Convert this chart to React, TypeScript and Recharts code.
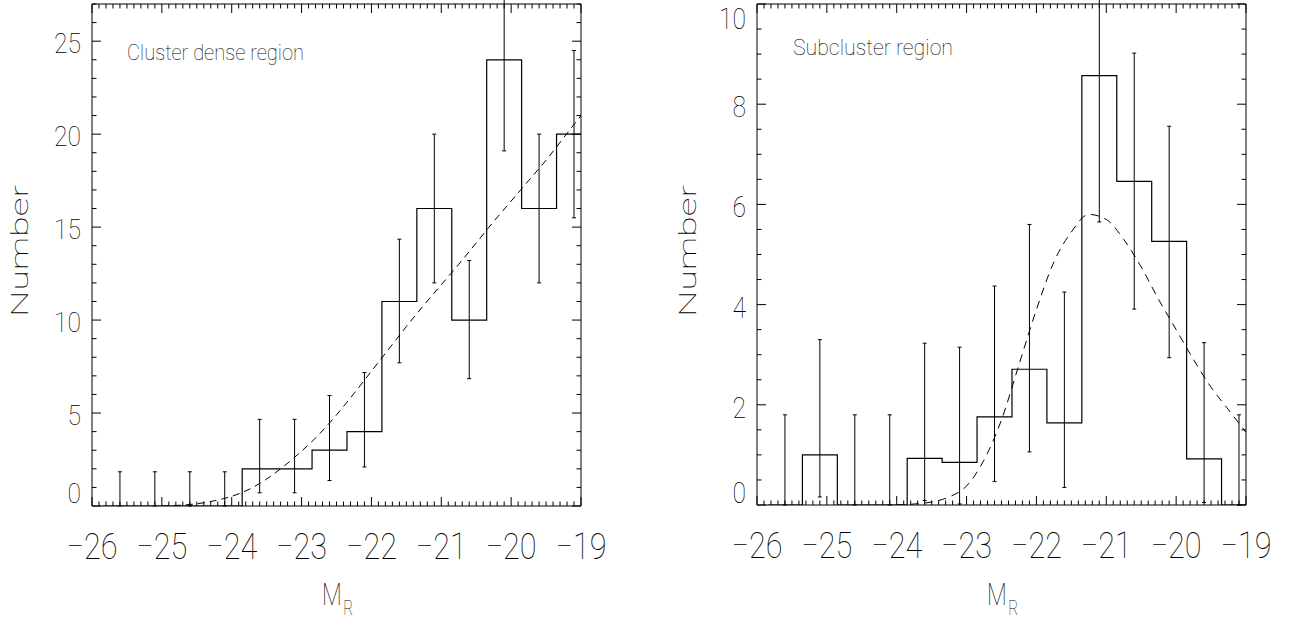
import { ComposedChart, Line, Scatter, ErrorBar, XAxis, YAxis } from 'recharts'

// bins are 0.5 mag wide, same centres in both panels
const binCenters = [-25.6, -25.1, -24.6, -24.1, -23.6, -23.1, -22.6, -22.1, -21.6, -21.1, -20.6, -20.1, -19.6, -19.1]
const binWidth = 0.5

const denseCounts = [0, 0, 0, 0, 2, 2, 3, 4, 11, 16, 10, 24, 16, 20]
const denseUpper = [1.84, 1.84, 1.84, 1.84, 4.66, 4.66, 5.94, 7.18, 14.35, 20.0, 13.2, 29.97, 20.0, 24.5]
const denseLower = [0, 0, 0, 0, 0.71, 0.71, 1.37, 2.1, 7.7, 12.0, 6.85, 19.1, 12.0, 15.5]
const denseFitMag = [-25, -24.75, -24.5, -24.25, -24, -23.75, -23.5, -23.25, -23, -22.75, -22.5, -22.25, -22, -21.75, -21.5, -21.25, -21, -20.75, -20.5, -20.25, -20, -19.75, -19.5, -19.25, -19]
const denseFitN = [0, 0.04, 0.12, 0.28, 0.52, 0.9, 1.45, 2.15, 2.95, 3.85, 4.9, 6.05, 7.25, 8.45, 9.65, 10.8, 11.9, 13.0, 14.15, 15.3, 16.4, 17.5, 18.6, 19.8, 21.0]

const subCounts = [0, 1.0, 0, 0, 0.93, 0.85, 1.76, 2.71, 1.64, 8.57, 6.46, 5.26, 0.92, 0]
const subUpper = [1.8, 3.3, 1.8, 1.8, 3.23, 3.15, 4.37, 5.6, 4.25, 12.6, 9.02, 7.56, 3.24, 1.8]
const subLower = [0, 0.16, 0, 0, 0.09, 0.02, 0.47, 1.06, 0.35, 5.65, 3.91, 2.94, 0.05, 0]
const subFitMag = [-24, -23.75, -23.5, -23.25, -23, -22.75, -22.5, -22.25, -22, -21.75, -21.5, -21.25, -21, -20.75, -20.5, -20.25, -20, -19.75, -19.5, -19.25, -19]
const subFitN = [0, 0.02, 0.06, 0.16, 0.38, 0.9, 1.7, 2.8, 3.9, 4.85, 5.45, 5.8, 5.7, 5.3, 4.75, 4.1, 3.5, 2.9, 2.35, 1.9, 1.45]

const magTicks = [-26, -25, -24, -23, -22, -21, -20, -19]
const denseTicks = [0, 5, 10, 15, 20, 25]
const subTicks = [0, 2, 4, 6, 8, 10]

const FONT = 'Roboto, "DejaVu Sans", sans-serif'
const WEIGHT = 100
const INK = '#000'

function steps(lo: number, hi: number, step: number) {
  const out: number[] = []
  const n = Math.round((hi - lo) / step)
  for (let i = 0; i <= n; i++) out.push(+(lo + i * step).toFixed(4))
  return out
}

const magMinor = steps(magTicks[0], magTicks[magTicks.length - 1], 0.1)
const isMajorMag = (v: number) => Math.abs(v - Math.round(v)) < 1e-6

const fmt = (v: number) => (v < 0 ? '\u2212' + Math.abs(v) : String(v))

function BottomTick(p: any) {
  const v = p.payload.value
  const major = isMajorMag(v)
  return (
    <g>
      <line x1={p.x} x2={p.x} y1={p.y} y2={p.y - (major ? 9 : 4.5)} stroke="#000" />
      {major && (
        <text x={p.x} y={p.y + 41} textAnchor="middle" dominantBaseline="central" fontFamily={FONT} fontWeight={WEIGHT}
          fontSize={36} fill={INK} textLength={51} lengthAdjust="spacingAndGlyphs">
          {fmt(v)}
        </text>
      )}
    </g>
  )
}

function TopTick(p: any) {
  const major = isMajorMag(p.payload.value)
  return <line x1={p.x} x2={p.x} y1={p.y} y2={p.y + (major ? 9 : 4.5)} stroke="#000" />
}

function makeLeftTick(majors: number[], yMax: number, fontSize: number) {
  return (p: any) => {
    const v = p.payload.value
    const major = majors.includes(v)
    const label = String(v)
    // IDL keeps the end labels inside the axis range
    const dy = v === 0 ? -12.5 : v === yMax ? 14.5 : 2.5
    return (
      <g>
        <line x1={p.x} x2={p.x + (major ? 9 : 4.5)} y1={p.y} y2={p.y} stroke="#000" />
        {major && (
          <text x={p.x - 11} y={p.y + dy} textAnchor="end" dominantBaseline="central" fontFamily={FONT} fontWeight={WEIGHT}
            fontSize={fontSize} fill={INK} textLength={label.length * 13.5} lengthAdjust="spacingAndGlyphs">
            {label}
          </text>
        )}
      </g>
    )
  }
}

function makeRightTick(majors: number[]) {
  return (p: any) => {
    const major = majors.includes(p.payload.value)
    return <line x1={p.x} x2={p.x - (major ? 9 : 4.5)} y1={p.y} y2={p.y} stroke="#000" />
  }
}

interface PanelProps {
  counts: number[]
  upper: number[]
  lower: number[]
  fitMag: number[]
  fitN: number[]
  yMax: number
  yTicks: number[]
  yMinor: number
  yFont: number
  dash: string
  title: string
  titleX: number
  titleY: number
  titleLen: number
  numberX: number
  plotLeft: number
  plotRight: number
  plotBottom: number
}

const W = 646
const H = 620

function Panel(cfg: PanelProps) {
  const hist = cfg.counts.map((n, i) => ({ x: binCenters[i] - binWidth / 2, y: n }))
  const last = cfg.counts.length - 1
  hist.push({ x: binCenters[last] + binWidth / 2, y: cfg.counts[last] })
  const bars = cfg.counts.map((n, i) => ({ x: binCenters[i], y: n, err: [n - cfg.lower[i], cfg.upper[i] - n] }))
  const fit = cfg.fitMag.map((m, i) => ({ x: m, y: cfg.fitN[i] }))
  const yMinorTicks = steps(0, cfg.yMax, cfg.yMinor)
  const cx = (cfg.plotLeft + cfg.plotRight) / 2

  return (
    <ComposedChart width={W} height={H}
      margin={{ top: 3, left: cfg.plotLeft - 80, right: W - cfg.plotRight - 1, bottom: H - cfg.plotBottom - 60 }}>
      <XAxis xAxisId="b" dataKey="x" type="number" domain={[-26, -19]} allowDataOverflow ticks={magMinor} interval={0}
        height={60} tickSize={0} tickMargin={0} tickLine={false} tick={BottomTick} axisLine={{ stroke: '#000' }} />
      <XAxis xAxisId="t" orientation="top" dataKey="x" type="number" domain={[-26, -19]} allowDataOverflow ticks={magMinor}
        interval={0} height={1} tickSize={0} tickMargin={0} tickLine={false} tick={TopTick} axisLine={{ stroke: '#000' }} />
      <YAxis yAxisId="l" type="number" domain={[0, cfg.yMax]} allowDataOverflow ticks={yMinorTicks} interval={0} width={80}
        tickSize={0} tickMargin={0} tickLine={false} tick={makeLeftTick(cfg.yTicks, cfg.yMax, cfg.yFont)} axisLine={{ stroke: '#000' }} />
      <YAxis yAxisId="r" orientation="right" type="number" domain={[0, cfg.yMax]} allowDataOverflow ticks={yMinorTicks}
        interval={0} width={1} tickSize={0} tickMargin={0} tickLine={false} tick={makeRightTick(cfg.yTicks)} axisLine={{ stroke: '#000' }} />

      {/* keeps the mirrored top/right axes tied to a series */}
      <Line xAxisId="t" yAxisId="r" data={fit} dataKey="y" stroke="none" dot={false} activeDot={false} isAnimationActive={false} />

      <Line xAxisId="b" yAxisId="l" data={hist} dataKey="y" type="stepAfter" stroke="#000" strokeWidth={1.2}
        dot={false} activeDot={false} isAnimationActive={false} />
      <Line xAxisId="b" yAxisId="l" data={fit} dataKey="y" type="monotone" stroke="#000" strokeWidth={1}
        strokeDasharray={cfg.dash} dot={false} activeDot={false} isAnimationActive={false} />
      <Scatter xAxisId="b" yAxisId="l" data={bars} dataKey="y" shape={() => <g />} isAnimationActive={false}>
        <ErrorBar dataKey="err" direction="y" width={2} stroke="#000" strokeWidth={1} isAnimationActive={false} />
      </Scatter>

      <text x={cfg.titleX} y={cfg.titleY} fontFamily={FONT} fontWeight={WEIGHT} fontSize={22} fill={INK}
        textLength={cfg.titleLen} lengthAdjust="spacingAndGlyphs">{cfg.title}</text>
      <text x={cfg.numberX} y={251} transform={`rotate(-90 ${cfg.numberX} 251)`} textAnchor="middle" dominantBaseline="central"
        fontFamily={FONT} fontWeight={WEIGHT} fontSize={24} fill={INK} textLength={132} lengthAdjust="spacingAndGlyphs">Number</text>
      <text transform={`translate(${cx - 14.5} 605) scale(0.72 1)`} fontFamily={FONT} fontWeight={WEIGHT} fontSize={32} fill={INK}>
        M<tspan dx={2} dy={10} fontSize={21}>R</tspan>
      </text>
    </ComposedChart>
  )
}

export default function App() {
  return (
    <div style={{ position: 'absolute', left: 0, top: 0, width: 1292, height: 620, background: '#fff' }}>
      <div style={{ position: 'absolute', left: 0, top: 0 }}>
        <Panel counts={denseCounts} upper={denseUpper} lower={denseLower} fitMag={denseFitMag} fitN={denseFitN}
          yMax={27} yTicks={denseTicks} yMinor={1} yFont={28} dash="7 5"
          title="Cluster dense region" titleX={127} titleY={60} titleLen={177} numberX={20}
          plotLeft={92} plotRight={581} plotBottom={506} />
      </div>
      <div style={{ position: 'absolute', left: W, top: 0 }}>
        <Panel counts={subCounts} upper={subUpper} lower={subLower} fitMag={subFitMag} fitN={subFitN}
          yMax={10} yTicks={subTicks} yMinor={0.5} yFont={30} dash="8 6"
          title="Subcluster region" titleX={147} titleY={54.5} titleLen={160} numberX={41.5}
          plotLeft={111} plotRight={600} plotBottom={505} />
      </div>
    </div>
  )
}
